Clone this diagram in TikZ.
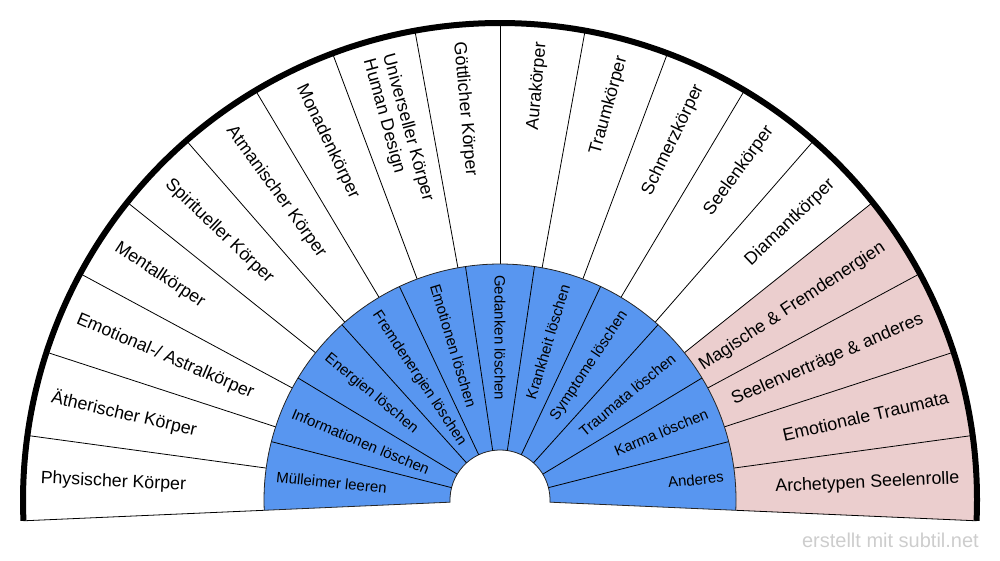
\documentclass[tikz,border=0pt]{standalone}
\usepackage{fontspec}
\setmainfont{Liberation Sans}
\definecolor{ringblue}{RGB}{88,150,240}
\definecolor{segpink}{RGB}{235,206,206}
\definecolor{wmgray}{RGB}{205,205,205}
\begin{document}
\begin{tikzpicture}[x=1pt,y=1pt,
  outerlbl/.style={inner sep=0pt, font=\fontsize{17.8}{20}\selectfont, align=left},
  innerlbl/.style={inner sep=0pt, font=\fontsize{15}{17}\selectfont},
  divider/.style={line width=0.8pt, draw=black},
  rim/.style={line width=6pt, draw=black},
  ringedge/.style={line width=0.8pt, draw=black!85}]
\useasboundingbox (0,0) rectangle (1000,560);
\node[anchor=base east, inner sep=0pt, text=wmgray, font=\fontsize{20}{22}\selectfont] (wm) at (979,13) {erstellt mit subtil.net};
\begin{scope}[shift={(500,60)}]
\def\Ro{477}\def\Rb{236}\def\Rh{50}
\def\Rlo{460}\def\Rli{225}
\coordinate (C) at (0,0);
% pink sectors
\fill[segpink] (-2.5:\Rb) -- (-2.5:\Ro) arc[start angle=-2.5,end angle=38.611,radius=\Ro] -- (38.611:\Rb) arc[start angle=38.611,end angle=-2.5,radius=\Rb] -- cycle;
% outer dividers
\foreach \k in {1,...,17}{
  \pgfmathsetmacro\ang{-2.5+\k*185/18}
  \draw[divider] (\ang:\Rb) -- (\ang:\Ro);
}
% bottom edges
\draw[divider] (-2.5:\Rb) -- (-2.5:\Ro);
\draw[divider] (182.5:\Rb) -- (182.5:\Ro);
% blue ring
\filldraw[fill=ringblue, ringedge] (-2.5:\Rh) -- (-2.5:\Rb) arc[start angle=-2.5,end angle=182.5,radius=\Rb] -- (182.5:\Rh) arc[start angle=182.5,end angle=-2.5,radius=\Rh] -- cycle;
\foreach \k in {1,...,10}{
  \pgfmathsetmacro\ang{-2.5+\k*185/11}
  \draw[divider] (\ang:\Rh) -- (\ang:\Rb);
}
% outer rim
\draw[rim] (-2.5:\Ro) arc[start angle=-2.5,end angle=182.5,radius=\Ro];
% outer labels
\foreach \k/\txt in {0/Archetypen Seelenrolle, 1/Emotionale Traumata, 2/Seelenverträge \& anderes, 3/Magische \& Fremdenergien, 4/Diamantkörper, 5/Seelenkörper, 6/Schmerzkörper, 7/Traumkörper, 8/Aurakörper, 9/Göttlicher Körper, 10/{Universeller Körper\\Human Design}, 11/Monadenkörper, 12/Atmanischer Körper, 13/Spiritueller Körper, 14/Mentalkörper, 15/{Emotional-/ Astralkörper}, 16/Ätherischer Körper, 17/Physischer Körper}{
  \pgfmathsetmacro\ang{-2.5+(\k+0.5)*185/18}
  \pgfmathtruncatemacro\side{\ang>89?1:0}
  \ifnum\side=1
    \pgfmathsetmacro\rot{\ang-180}
    \node[outerlbl, anchor=west, rotate=\rot] (o\k) at (\ang:\Rlo) {\txt};
  \else
    \node[outerlbl, anchor=east, rotate=\ang] (o\k) at (\ang:\Rlo) {\txt};
  \fi
}
% inner labels
\foreach \k/\txt in {0/Anderes, 1/Karma löschen, 2/Traumata löschen, 3/Symptome löschen, 4/Krankheit löschen, 5/Gedanken löschen, 6/Emotionen löschen, 7/Fremdenergien löschen, 8/Energien löschen, 9/Informationen löschen, 10/Mülleimer leeren}{
  \pgfmathsetmacro\ang{-2.5+(\k+0.5)*185/11}
  \pgfmathtruncatemacro\side{\ang>89?1:0}
  \ifnum\side=1
    \pgfmathsetmacro\rot{\ang-180}
    \node[innerlbl, anchor=west, rotate=\rot] (i\k) at (\ang:\Rli) {\txt};
  \else
    \node[innerlbl, anchor=east, rotate=\ang] (i\k) at (\ang:\Rli) {\txt};
  \fi
}
\end{scope}
\end{tikzpicture}
\end{document}
